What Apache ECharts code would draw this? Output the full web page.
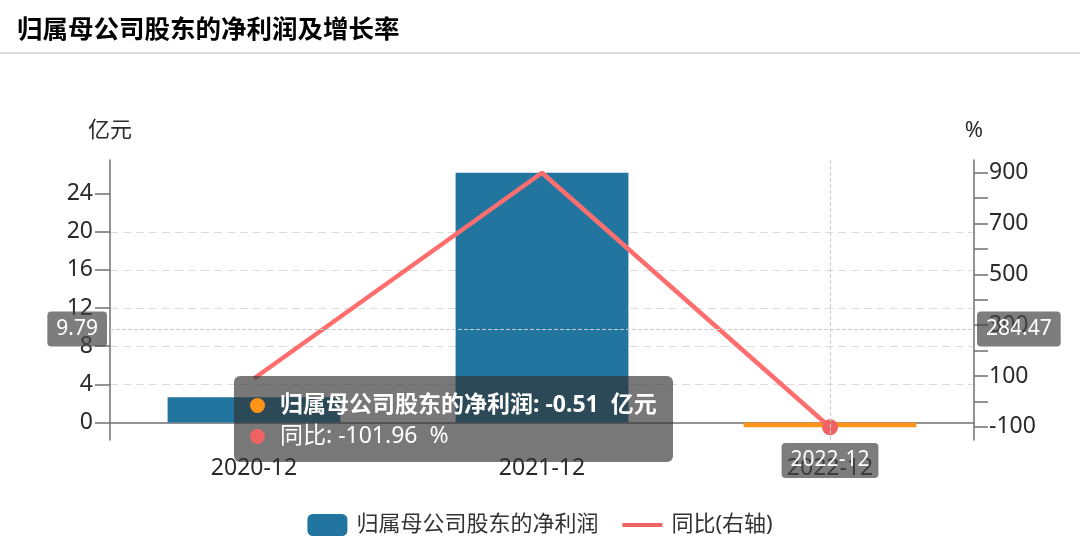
<!DOCTYPE html>
<html><head><meta charset="utf-8">
<script src="https://cdn.jsdelivr.net/npm/echarts@6/dist/echarts.min.js"></script>
<style>html,body{margin:0;padding:0;background:#fff}#c{width:1080px;height:549px}</style>
</head><body><div id="c"></div>
<script>
const chartTitle = '归属母公司股东的净利润及增长率';
const categories = ['2020-12', '2021-12', '2022-12'];
const profitName = '归属母公司股东的净利润';
const yoyName = '同比(右轴)';
const leftAxisName = '亿元';
const rightAxisName = '%';
const profitValues = [2.63, 26.2, -0.51];
const yoyValues = [90, 900, -101.96];
const leftTicks = [0, 4, 8, 12, 16, 20, 24];
const rightTicks = [-100, 0, 100, 200, 300, 400, 500, 600, 700, 800, 900];
const rightLabels = [-100, 100, 300, 500, 700, 900];
const tooltipLabels = ['归属母公司股东的净利润', '同比'];
const tooltipUnits = ['亿元', '%'];

const FONT = "'Noto Sans', 'Noto Sans CJK SC', sans-serif";
const BLUE = '#21759f';
const ORANGE = '#ff9419';
const RED = '#ee6464';
const AXIS = '#707070';

const padMin = e => e.min - (e.max - e.min) * 0.05;
const padMax = e => e.max + (e.max - e.min) * 0.05;

const chart = echarts.init(document.getElementById('c'));
const option = {
  animation: false,
  textStyle: {fontFamily: FONT},
  title: {text: chartTitle, left: 12, top: 13, textStyle: {fontSize: 25.5, fontWeight: 'bold', color: '#000', fontFamily: FONT}},
  graphic: [{type: 'line', shape: {x1: 0, y1: 53, x2: 1080, y2: 53}, style: {stroke: '#cfcfcf', lineWidth: 1.5}, silent: true}],
  grid: {left: 110, right: 106, top: 160, bottom: 109},
  legend: {
    top: 509, left: 'center', itemWidth: 40, itemHeight: 22, itemGap: 24,
    textStyle: {fontSize: 22, color: '#333', fontFamily: FONT, padding: [0, 0, 0, 4]},
    data: [{name: profitName, icon: 'roundRect'}, {name: yoyName, icon: 'path://M0,0h40v4h-40z'}]
  },
  tooltip: {
    trigger: 'axis',
    position: [234, 376],
    transitionDuration: 0,
    backgroundColor: 'rgba(50,50,50,0.66)',
    borderWidth: 0,
    borderRadius: 6,
    padding: [12, 16],
    extraCssText: 'box-shadow:none;',
    textStyle: {color: '#fff', fontSize: 23, fontFamily: FONT},
    axisPointer: {
      type: 'cross',
      crossStyle: {color: '#ccc', width: 1, type: 'dashed'},
      lineStyle: {color: '#ccc', width: 1, type: 'dashed'},
      label: {backgroundColor: 'rgba(70,70,70,0.7)', color: '#fff', fontSize: 21, padding: [7, 9], borderRadius: 4, fontFamily: FONT}
    },
    formatter: params => params.map(p => {
      const idx = p.seriesIndex;
      const w = idx === 0 ? 'bold' : 'normal';
      return '<div style="line-height:31px;white-space:pre;font-weight:' + w + '">' +
        '<span style="display:inline-block;width:15px;height:15px;border-radius:50%;background:' + p.color + ';margin-right:15px;vertical-align:-1px"></span>' +
        tooltipLabels[idx] + ': ' + p.value + '  ' + tooltipUnits[idx] + '</div>';
    }).join('')
  },
  xAxis: {
    type: 'category', data: categories,
    axisLine: {lineStyle: {color: AXIS, width: 1.5}},
    axisTick: {alignWithLabel: true, length: 14, lineStyle: {color: AXIS, width: 1.5}},
    axisLabel: {fontSize: 23, color: '#2a2a2a', margin: 17, fontFamily: FONT},
    splitLine: {show: false}
  },
  yAxis: [{
    type: 'value', name: leftAxisName, nameGap: 18,
    nameTextStyle: {fontSize: 22, color: '#2a2a2a', fontFamily: FONT},
    min: padMin, max: padMax,
    axisLine: {show: true, lineStyle: {color: AXIS, width: 1.5}},
    axisTick: {show: true, length: 15, customValues: leftTicks, lineStyle: {color: AXIS, width: 1.5}},
    axisLabel: {fontSize: 23, color: '#2a2a2a', margin: 17, customValues: leftTicks, fontFamily: FONT},
    splitLine: {show: true, showMinLine: false, showMaxLine: false, lineStyle: {color: '#dcdcdc', type: [8, 5], width: 1.2}},
    axisPointer: {label: {precision: 2}}
  }, {
    type: 'value', name: rightAxisName, nameGap: 18, position: 'right',
    nameTextStyle: {fontSize: 22, color: '#2a2a2a', fontFamily: FONT},
    min: padMin, max: padMax,
    axisLine: {show: true, lineStyle: {color: AXIS, width: 1.5}},
    axisTick: {show: true, length: 14, customValues: rightTicks, lineStyle: {color: AXIS, width: 1.5}},
    axisLabel: {fontSize: 23, color: '#2a2a2a', margin: 15, customValues: rightLabels, fontFamily: FONT},
    splitLine: {show: false},
    axisPointer: {label: {precision: 2}}
  }],
  series: [{
    name: profitName, type: 'bar', yAxisIndex: 0, barWidth: '60%',
    itemStyle: {color: BLUE},
    emphasis: {disabled: true},
    data: profitValues.map(v => v < 0 ? {value: v, itemStyle: {color: ORANGE}} : v)
  }, {
    name: yoyName, type: 'line', yAxisIndex: 1,
    showSymbol: false, symbol: 'circle', symbolSize: 16,
    itemStyle: {color: RED},
    lineStyle: {color: RED, width: 4.5},
    emphasis: {scale: false, lineStyle: {width: 4.5}},
    data: yoyValues
  }]
};
chart.setOption(option);
function tip() { chart.dispatchAction({type: 'showTip', x: 829, y: 329.1}); }
tip();
setTimeout(tip, 50);
</script></body></html>
